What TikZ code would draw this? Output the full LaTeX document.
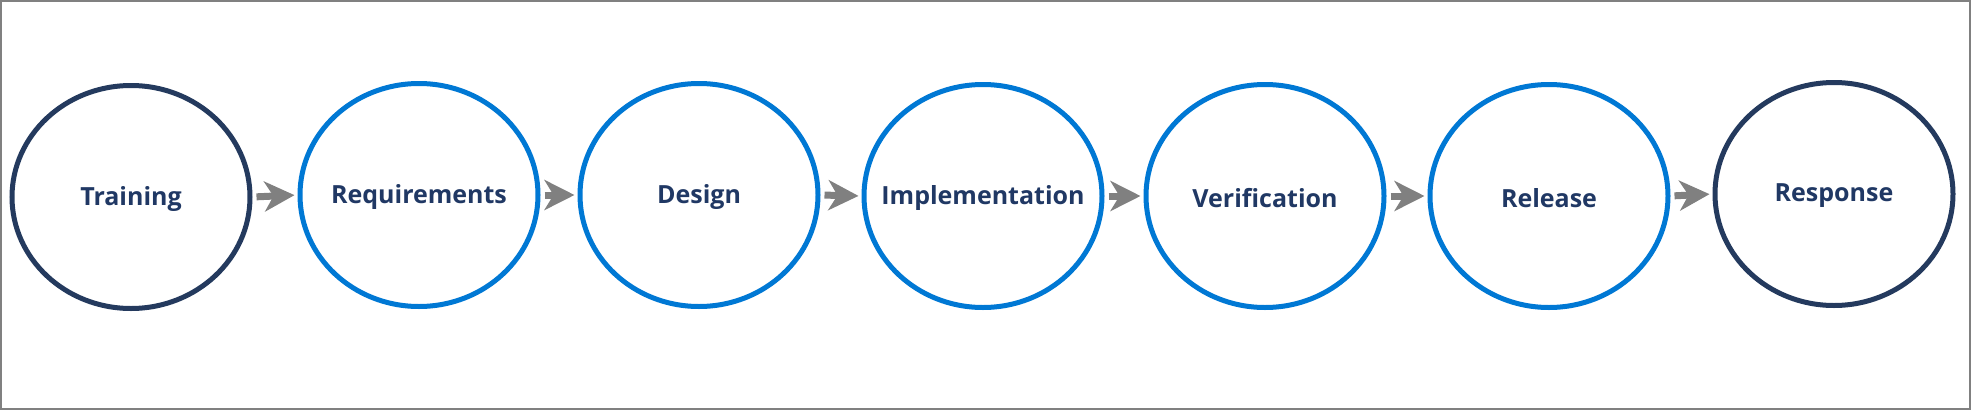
\documentclass[tikz,border=0pt]{standalone}
\usepackage{fontspec}
\setmainfont{Open Sans}
\usetikzlibrary{shapes.geometric,arrows.meta}
\definecolor{navy}{HTML}{243A5E}
\definecolor{txt}{HTML}{203864}
\definecolor{msblue}{HTML}{0078D4}
\definecolor{arrowgray}{HTML}{808080}
\tikzset{
  phase/.style={ellipse, draw=msblue, line width=5pt, minimum width=238pt, minimum height=223pt, inner sep=0pt,
    label={[font=\fontsize{25}{30}\selectfont\bfseries, text=txt, yshift=-2pt]center:#1}},
  endphase/.style={phase=#1, draw=navy},
  flow/.style={draw=arrowgray, line width=7pt, -{Stealth[length=30pt,width=30pt,inset=9pt]}, shorten <=4pt, shorten >=3pt}
}
\begin{document}
\begin{tikzpicture}[x=1pt,y=-1pt]
\useasboundingbox (0,0) rectangle (1971,410);
\draw[arrowgray, line width=2pt] (1,1) rectangle (1970,409);
\node[endphase=Training] (a) at (131,197) {};
\node[phase=Requirements] (b) at (419,195) {};
\node[phase=Design] (c) at (699,195) {};
\node[phase=Implementation] (d) at (983,196) {};
\node[phase=Verification] (e) at (1265,196) {};
\node[phase=Release] (f) at (1549,196) {};
\node[endphase=Response] (g) at (1834,194) {};
\foreach \p/\q in {a/b,b/c,c/d,d/e,e/f,f/g}
  \draw[flow] (\p.east) -- (\q.west);
\end{tikzpicture}
\end{document}
